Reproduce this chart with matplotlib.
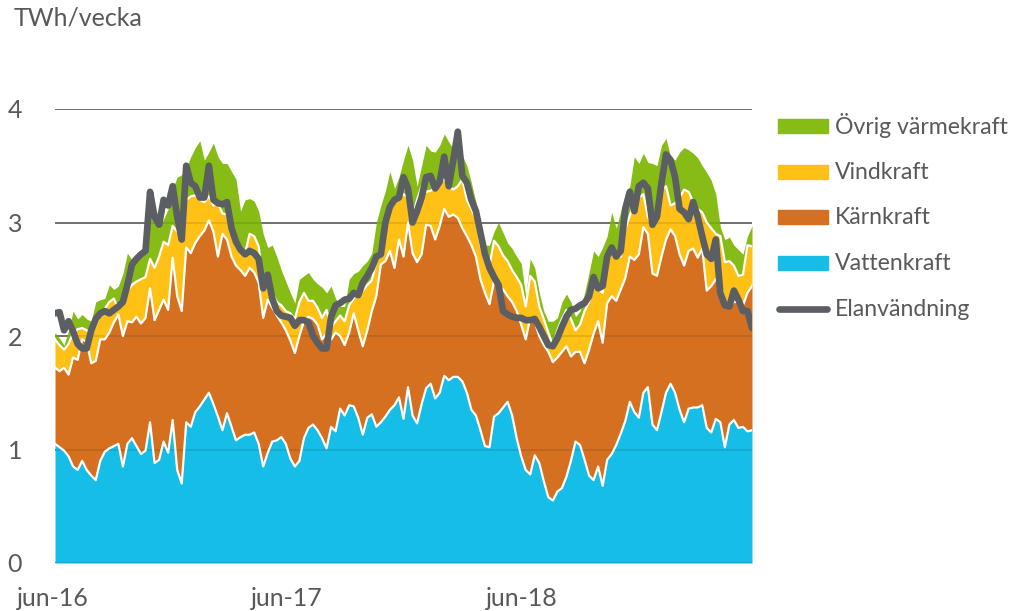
import numpy as np
import matplotlib
matplotlib.use("Agg")
import matplotlib.pyplot as plt
from matplotlib.patches import Rectangle
from matplotlib.lines import Line2D

# ---- data (TWh/vecka, weekly from jun-16) ----
vattenkraft = [
    1.05, 1.02, 0.99, 0.94, 0.85, 0.82, 0.90, 0.82, 0.77, 0.73,
    0.90, 0.98, 1.01, 1.03, 1.05, 0.85, 1.05, 1.10, 1.03, 0.96,
    0.99, 1.24, 0.88, 0.91, 1.07, 0.97, 1.26, 0.82, 0.70, 1.24,
    1.20, 1.33, 1.38, 1.44, 1.50, 1.40, 1.29, 1.17, 1.32, 1.20,
    1.08, 1.11, 1.13, 1.13, 1.15, 1.05, 0.85, 0.97, 1.07, 1.08,
    1.11, 1.05, 0.92, 0.85, 0.90, 1.10, 1.19, 1.22, 1.17, 1.10,
    1.01, 1.20, 1.16, 1.36, 1.30, 1.39, 1.38, 1.28, 1.13, 1.28,
    1.31, 1.20, 1.24, 1.29, 1.35, 1.39, 1.46, 1.27, 1.55, 1.30,
    1.23, 1.40, 1.54, 1.58, 1.45, 1.50, 1.65, 1.61, 1.64, 1.64,
    1.60, 1.50, 1.35, 1.30, 1.17, 1.03, 1.02, 1.29, 1.32, 1.37,
    1.42, 1.30, 1.10, 0.94, 0.82, 0.78, 0.95, 0.88, 0.72, 0.58,
    0.55, 0.63, 0.66, 0.76, 0.90, 1.07, 1.04, 0.91, 0.77, 0.73,
    0.85, 0.68, 0.91, 0.96, 1.04, 1.14, 1.25, 1.42, 1.33, 1.28,
    1.50, 1.55, 1.22, 1.17, 1.33, 1.50, 1.58, 1.50, 1.35, 1.24,
    1.36, 1.37, 1.37, 1.39, 1.19, 1.15, 1.27, 1.24, 1.02, 1.22,
    1.26, 1.19, 1.20, 1.16, 1.17]

karnkraft = [
    0.67, 0.67, 0.73, 0.72, 0.96, 0.97, 1.07, 1.13, 0.99, 1.05,
    1.07, 0.99, 1.02, 1.09, 1.14, 1.15, 1.08, 1.02, 1.14, 1.15,
    1.17, 1.18, 1.26, 1.32, 1.25, 1.26, 1.43, 1.53, 1.52, 1.54,
    1.53, 1.49, 1.50, 1.49, 1.52, 1.52, 1.41, 1.73, 1.53, 1.50,
    1.54, 1.47, 1.40, 1.47, 1.41, 1.42, 1.31, 1.35, 1.18, 1.10,
    1.01, 1.00, 1.04, 1.00, 1.10, 1.03, 0.98, 0.93, 0.93, 0.87,
    1.01, 0.77, 0.87, 0.64, 0.62, 0.64, 0.82, 0.77, 0.78, 0.77,
    0.91, 1.15, 1.39, 1.37, 1.40, 1.21, 1.39, 1.43, 1.45, 1.43,
    1.42, 1.32, 1.44, 1.39, 1.40, 1.47, 1.47, 1.44, 1.43, 1.40,
    1.35, 1.38, 1.45, 1.40, 1.33, 1.35, 1.26, 1.19, 1.12, 1.04,
    0.93, 1.00, 1.12, 1.16, 1.15, 1.38, 1.17, 1.12, 1.20, 1.28,
    1.22, 1.18, 1.20, 1.15, 0.92, 0.79, 0.82, 0.85, 1.11, 1.29,
    1.28, 1.26, 1.38, 1.39, 1.27, 1.27, 1.26, 1.28, 1.34, 1.44,
    1.46, 1.35, 1.33, 1.36, 1.37, 1.35, 1.36, 1.38, 1.37, 1.38,
    1.39, 1.40, 1.32, 1.38, 1.21, 1.29, 1.23, 1.26, 1.26, 1.04,
    1.04, 1.11, 1.07, 1.22, 1.27]

vindkraft = [
    0.25, 0.23, 0.16, 0.27, 0.22, 0.27, 0.10, 0.10, 0.26, 0.32,
    0.21, 0.27, 0.27, 0.21, 0.05, 0.31, 0.27, 0.33, 0.31, 0.39,
    0.36, 0.26, 0.46, 0.47, 0.51, 0.57, 0.28, 0.57, 0.68, 0.42,
    0.50, 0.42, 0.32, 0.25, 0.21, 0.23, 0.47, 0.18, 0.22, 0.20,
    0.23, 0.22, 0.20, 0.30, 0.32, 0.32, 0.32, 0.13, 0.13, 0.12,
    0.15, 0.17, 0.24, 0.30, 0.30, 0.25, 0.14, 0.16, 0.15, 0.19,
    0.21, 0.11, 0.10, 0.18, 0.21, 0.24, 0.13, 0.36, 0.49, 0.40,
    0.27, 0.31, 0.17, 0.29, 0.35, 0.58, 0.37, 0.55, 0.22, 0.32,
    0.55, 0.60, 0.29, 0.31, 0.45, 0.38, 0.26, 0.27, 0.22, 0.28,
    0.43, 0.32, 0.32, 0.33, 0.30, 0.28, 0.34, 0.36, 0.35, 0.30,
    0.31, 0.28, 0.30, 0.35, 0.29, 0.37, 0.36, 0.26, 0.23, 0.17,
    0.15, 0.24, 0.29, 0.32, 0.33, 0.19, 0.24, 0.46, 0.42, 0.50,
    0.29, 0.44, 0.39, 0.41, 0.39, 0.29, 0.43, 0.36, 0.51, 0.50,
    0.29, 0.15, 0.42, 0.59, 0.59, 0.47, 0.21, 0.29, 0.50, 0.67,
    0.52, 0.41, 0.43, 0.32, 0.60, 0.51, 0.40, 0.38, 0.37, 0.40,
    0.32, 0.23, 0.27, 0.42, 0.35]

ovrig_varmekraft = [
    0.06, 0.06, 0.04, 0.12, 0.19, 0.09, 0.12, 0.10, 0.11, 0.20,
    0.14, 0.09, 0.15, 0.08, 0.20, 0.24, 0.33, 0.22, 0.19, 0.20,
    0.43, 0.38, 0.40, 0.25, 0.20, 0.32, 0.33, 0.48, 0.52, 0.28,
    0.35, 0.42, 0.52, 0.37, 0.39, 0.55, 0.41, 0.44, 0.45, 0.55,
    0.53, 0.30, 0.47, 0.31, 0.31, 0.31, 0.42, 0.33, 0.42, 0.40,
    0.31, 0.26, 0.18, 0.14, 0.20, 0.15, 0.25, 0.19, 0.21, 0.27,
    0.15, 0.36, 0.20, 0.08, 0.13, 0.23, 0.22, 0.16, 0.22, 0.21,
    0.24, 0.34, 0.35, 0.33, 0.35, 0.12, 0.18, 0.30, 0.46, 0.50,
    0.12, 0.18, 0.41, 0.35, 0.32, 0.33, 0.40, 0.39, 0.36, 0.28,
    0.21, 0.30, 0.23, 0.15, 0.15, 0.14, 0.18, 0.08, 0.21, 0.20,
    0.16, 0.19, 0.18, 0.19, 0.09, 0.15, 0.12, 0.12, 0.07, 0.10,
    0.21, 0.11, 0.15, 0.14, 0.15, 0.12, 0.12, 0.16, 0.26, 0.23,
    0.28, 0.40, 0.20, 0.33, 0.25, 0.40, 0.31, 0.26, 0.40, 0.30,
    0.36, 0.48, 0.55, 0.38, 0.39, 0.42, 0.43, 0.38, 0.40, 0.37,
    0.37, 0.43, 0.45, 0.41, 0.44, 0.42, 0.35, 0.08, 0.20, 0.21,
    0.18, 0.23, 0.18, 0.08, 0.18]

elanvandning = [
    2.20, 2.21, 2.05, 2.13, 2.04, 1.93, 1.89, 1.89, 2.05, 2.15,
    2.20, 2.22, 2.20, 2.23, 2.26, 2.30, 2.45, 2.63, 2.68, 2.72,
    2.75, 3.27, 3.05, 2.98, 3.20, 3.15, 3.32, 3.05, 2.85, 3.50,
    3.35, 3.32, 3.22, 3.22, 3.50, 3.20, 3.17, 3.16, 3.18, 2.95,
    2.83, 2.76, 2.72, 2.75, 2.73, 2.68, 2.42, 2.54, 2.33, 2.22,
    2.18, 2.17, 2.16, 2.09, 2.14, 2.14, 2.12, 2.00, 1.94, 1.89,
    1.89, 2.17, 2.27, 2.29, 2.32, 2.33, 2.38, 2.36, 2.47, 2.53,
    2.60, 2.70, 2.72, 3.00, 3.14, 3.20, 3.22, 3.40, 3.30, 3.00,
    3.10, 3.22, 3.40, 3.41, 3.30, 3.36, 3.58, 3.32, 3.55, 3.80,
    3.41, 3.35, 3.20, 3.10, 2.91, 2.72, 2.60, 2.52, 2.45, 2.22,
    2.19, 2.17, 2.16, 2.16, 2.14, 2.14, 2.15, 2.08, 2.00, 1.92,
    1.91, 1.98, 2.08, 2.17, 2.23, 2.24, 2.27, 2.29, 2.35, 2.52,
    2.42, 2.44, 2.70, 2.78, 2.70, 2.75, 3.12, 3.27, 3.10, 3.32,
    3.35, 3.30, 2.98, 3.05, 3.35, 3.60, 3.55, 3.40, 3.12, 3.09,
    3.03, 3.18, 3.05, 2.88, 2.72, 2.68, 2.85, 2.38, 2.27, 2.26,
    2.40, 2.32, 2.22, 2.22, 2.07]

x_labels = ["jun-16", "jun-17", "jun-18"]
x_label_pos = [-0.5, 51.2, 103.2]
y_ticks = [0, 1, 2, 3, 4]

colors = ["#16BDE6", "#D4701F", "#FFC116", "#86BC15"]
line_color = "#5B5F63"
text_color = "#595959"

FONT = "Lato"
FS = 18.0
LFS = 16.6

# ---- figure ----
W, H = 1017, 611
fig = plt.figure(figsize=(W / 100, H / 100), dpi=100)
ax = fig.add_axes([55 / W, 1 - 563 / H, (752 - 55) / W, (563 - 109) / H])

n = len(vattenkraft)
x = np.arange(n)
layers = np.array([vattenkraft, karnkraft, vindkraft, ovrig_varmekraft])
cum = np.cumsum(layers, axis=0)

# gridlines behind
for yv in y_ticks:
    ax.axhline(yv, color="#595959", lw=1.1, zorder=0)

bottom = np.zeros(n)
for i in range(4):
    ax.fill_between(x, bottom, cum[i], color=colors[i], lw=0, zorder=1)
    bottom = cum[i]

# faint gridlines through areas
for yv in y_ticks[1:]:
    ax.axhline(yv, color="#000000", lw=1.1, alpha=0.12, zorder=2)
ax.axhline(0, color="#000000", lw=1.5, alpha=0.10, zorder=2)

# white separators
for i in range(3):
    ax.plot(x, cum[i], color="white", lw=1.6, zorder=3)

ax.plot(x, elanvandning, color=line_color, lw=4.8, zorder=4,
        solid_capstyle="round", solid_joinstyle="round")

ax.set_xlim(0, n - 1)
ax.set_ylim(0, 4)
for s in ax.spines.values():
    s.set_visible(False)
ax.set_xticks([])
ax.set_yticks(y_ticks)
ax.set_yticklabels([str(v) for v in y_ticks])
ax.tick_params(axis="y", length=0, pad=29, labelsize=FS, labelcolor=text_color)
for lab in ax.get_yticklabels():
    lab.set_fontfamily(FONT)
    lab.set_horizontalalignment("center")

for lbl, xp in zip(x_labels, x_label_pos):
    ax.text(xp, -0.052, lbl, ha="center", va="top", fontsize=FS,
            color=text_color, family=FONT, clip_on=False,
            transform=ax.get_xaxis_transform())

fig.text(14 / W, 1 - 18 / H, "TWh/vecka", ha="left", va="center",
         fontsize=FS, color=text_color, family=FONT)

# ---- legend ----
leg_rows = [126, 172, 217, 263, 309]
legend_items = [("Övrig värmekraft", colors[3]), ("Vindkraft", colors[2]),
                ("Kärnkraft", colors[1]), ("Vattenkraft", colors[0])]
for (name, col), yy in zip(legend_items, leg_rows[:4]):
    fig.patches.append(Rectangle((778 / W, 1 - (yy + 7) / H), 50 / W, 14 / H,
                                 transform=fig.transFigure, color=col))
    fig.text(835 / W, 1 - yy / H, name, ha="left", va="center", fontsize=LFS,
             color=text_color, family=FONT)
yy = leg_rows[4]
fig.lines.append(Line2D([779 / W, 827 / W], [1 - yy / H, 1 - yy / H],
                        transform=fig.transFigure, color=line_color, lw=4.8,
                        solid_capstyle="round"))
fig.text(835 / W, 1 - yy / H, "Elanvändning", ha="left", va="center",
         fontsize=LFS, color=text_color, family=FONT)

fig.savefig("out.png", dpi=100)
